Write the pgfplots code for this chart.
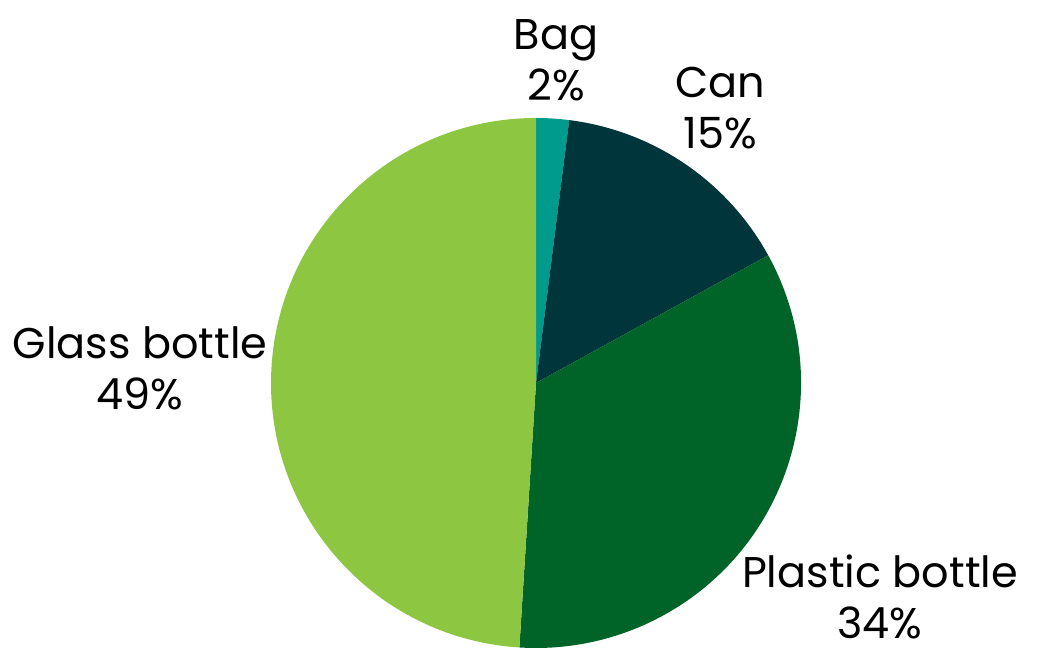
\documentclass[border=0pt]{standalone}
\usepackage{pgfplots}
\usepackage{pgfplotstable}
\pgfplotsset{compat=1.18}
\usepackage{fontspec}
\setmainfont{Poppins}
\definecolor{pie0}{HTML}{009B8D}
\definecolor{pie1}{HTML}{00353C}
\definecolor{pie2}{HTML}{006428}
\definecolor{pie3}{HTML}{8DC641}
\pgfplotstableread{
label pct
Bag 2
Can 15
Plastic 34
Glass 49
}\piedata
\begin{document}
\begin{tikzpicture}
\begin{axis}[
  scale only axis, width=519pt, height=323pt,
  xmin=0, xmax=1038, ymin=0, ymax=646, y dir=reverse,
  hide axis, clip=false,
]
\draw[draw=none] (rel axis cs:0,0) rectangle (rel axis cs:1,1);
\gdef\cum{0}
\pgfplotsforeachungrouped \i in {0,...,3}{%
  \pgfplotstablegetelem{\i}{pct}\of\piedata
  \let\val\pgfplotsretval
  \pgfmathsetmacro\start{90-3.6*\cum}%
  \pgfmathsetmacro\stop{90-3.6*(\cum+\val)}%
  \edef\cmd{\noexpand\fill[pie\i] (axis cs:536,383) -- ([shift={(\start:132.5pt)}]axis cs:536,383) arc[start angle=\start, end angle=\stop, radius=132.5pt] -- cycle;}%
  \cmd
  \pgfmathsetmacro\newcum{\cum+\val}%
  \xdef\cum{\newcum}%
}
\tikzset{lbl/.style={align=center, font=\fontsize{21.5}{25.5}\selectfont, text=black, inner sep=0pt}}
\node[lbl] at (axis cs:556,60) {Bag\\2\%};
\node[lbl] at (axis cs:720,108) {Can\\15\%};
\node[lbl] at (axis cs:140,368) {Glass bottle\\49\%};
\node[lbl] at (axis cs:880,597) {Plastic bottle\\34\%};
\end{axis}
\end{tikzpicture}
\end{document}
